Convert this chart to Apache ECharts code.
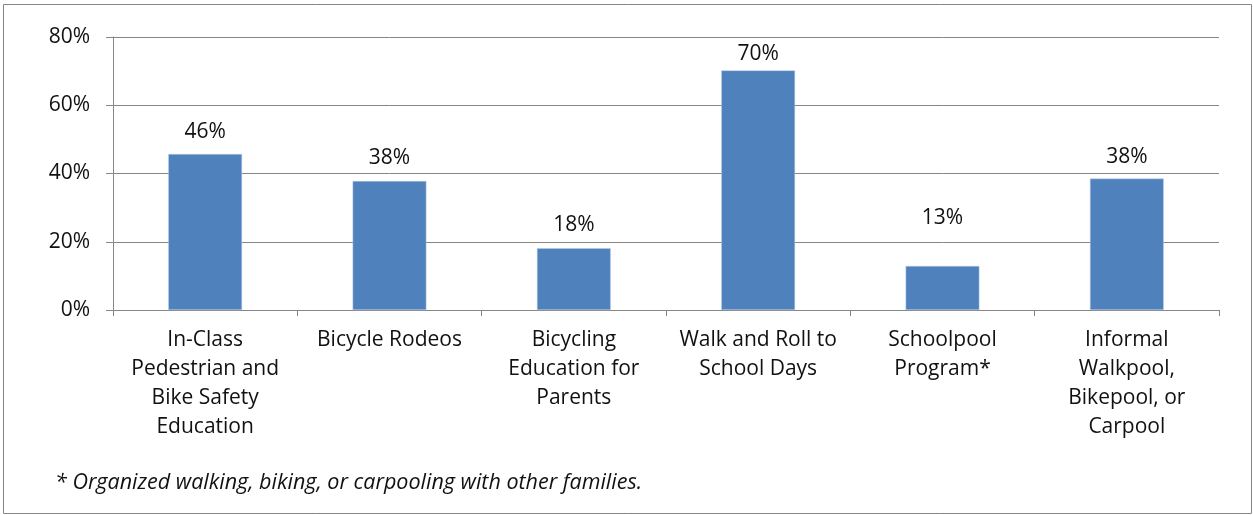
<!DOCTYPE html>
<html>
<head>
<meta charset="utf-8">
<script src="https://cdn.jsdelivr.net/npm/echarts@6/dist/echarts.min.js"></script>
<style>html,body{margin:0;padding:0;background:#fff;}#c{width:1253px;height:515px;}</style>
</head>
<body>
<div id="c"></div>
<script>
const categories = [
  "In-Class\nPedestrian and\nBike Safety\nEducation",
  "Bicycle Rodeos",
  "Bicycling\nEducation for\nParents",
  "Walk and Roll to\nSchool Days",
  "Schoolpool\nProgram*",
  "Informal\nWalkpool,\nBikepool, or\nCarpool"
];
const values = [45.7, 37.8, 18.1, 70.2, 12.9, 38.5];
const valueLabels = ["46%", "38%", "18%", "70%", "13%", "38%"];
const yTicks = [0, 20, 40, 60, 80];
const footnote = "* Organized walking, biking, or carpooling with other families.";

const labelDistance = [12, 12, 13, 6, 37, 11];
const FONT = "Open Sans";
const chart = echarts.init(document.getElementById('c'), null, {renderer: 'canvas'});
chart.setOption({
  animation: false,
  backgroundColor: '#ffffff',
  grid: {left: 113, right: 34, top: 37, bottom: 205, containLabel: false},
  xAxis: {
    type: 'category',
    data: categories,
    axisLine: {lineStyle: {color: '#868686', width: 1}},
    axisTick: {show: true, length: 6, lineStyle: {color: '#868686'}},
    axisLabel: {color: '#111111', fontFamily: FONT, fontSize: 21, lineHeight: 29, margin: 16, interval: 0}
  },
  yAxis: {
    type: 'value',
    min: yTicks[0], max: yTicks[yTicks.length - 1], interval: 20,
    axisLine: {show: true, lineStyle: {color: '#868686', width: 1}},
    axisTick: {show: true, length: 7, lineStyle: {color: '#868686'}},
    splitLine: {lineStyle: {color: '#868686', width: 1}},
    axisLabel: {color: '#111111', fontFamily: FONT, fontSize: 21, margin: 23, formatter: v => v + '%'}
  },
  series: [{
    type: 'bar',
    barWidth: '40%',
    data: values.map((v, i) => ({
      value: v,
      label: {show: true, position: 'top', distance: labelDistance[i], formatter: valueLabels[i]}
    })),
    itemStyle: {color: '#4F81BD', borderColor: '#b9cde5', borderWidth: 0.5},
    label: {color: '#111111', fontFamily: FONT, fontSize: 21}
  }],
  graphic: [
    {type: 'rect', shape: {x: 3.5, y: 4.5, width: 1248, height: 509}, style: {fill: 'none', stroke: '#868686', lineWidth: 1}, silent: true},
    {type: 'text', left: 55, top: 472, style: {text: footnote, fontFamily: FONT, fontStyle: 'italic', fontSize: 21.5, fill: '#111111'}}
  ]
});
</script>
</body>
</html>
